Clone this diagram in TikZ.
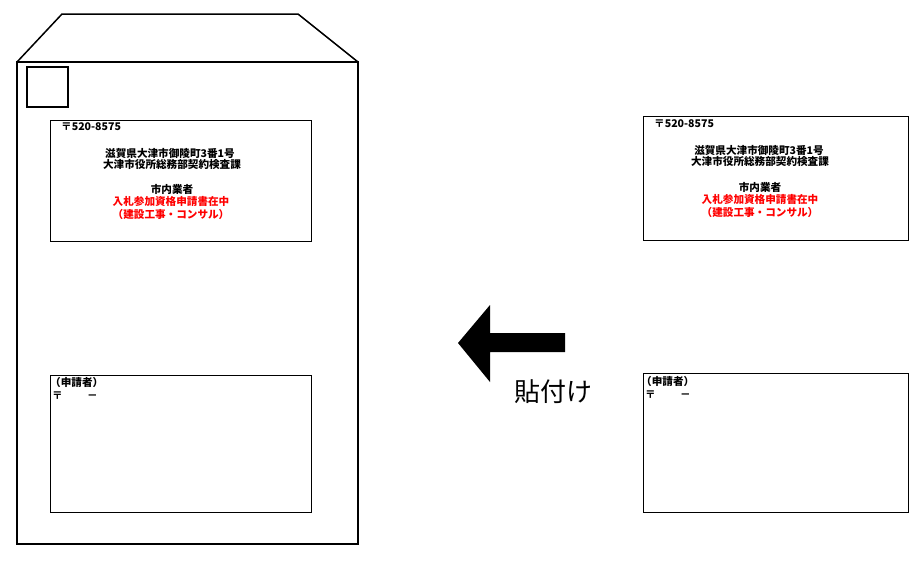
\documentclass[tikz,border=0pt]{standalone}
\usepackage{fontspec}
\newfontfamily\jp{Noto Sans CJK JP}
\begin{document}
\begin{tikzpicture}[x=1pt,y=-1pt,
  env/.style={draw=black,line width=1.5pt},
  lbl/.style={draw=black,line width=1.2pt},
  tx/.style={font=\jp\bfseries\fontsize{10.6}{12}\selectfont,inner sep=0pt,align=center},
  txr/.style={tx,text=red}]
\useasboundingbox (0,0) rectangle (921,563);
% envelope
\draw[env] (17,62) -- (62,14) -- (298,14) -- (358,62);
\draw[env] (17,62) rectangle (358,544);
\draw[env] (27,67) rectangle (68,107);
% left labels
\node[lbl,minimum width=261,minimum height=121,anchor=north west,inner sep=0pt] (L1) at (50,120) {};
\node[tx,anchor=west] (p1) at (61,127) {〒520-8575};
\node[tx] (a1) at (170,153) {滋賀県大津市御陵町3番1号};
\node[tx] (b1) at (172,164) {大津市役所総務部契約検査課};
\node[tx] (c1) at (172,189) {市内業者};
\node[txr] (d1) at (171,201) {入札参加資格申請書在中};
\node[txr] (e1) at (171,214) {（建設工事・コンサル）};
\node[lbl,minimum width=261,minimum height=137,anchor=north west,inner sep=0pt] (L2) at (50,375) {};
\node[tx,anchor=west] (f1) at (50,382) {（申請者）};
\node[tx,anchor=west] (g1) at (52,396) {〒\hspace{2.3em}－};
% right labels
\node[lbl,minimum width=265,minimum height=124,anchor=north west,inner sep=0pt] (R1) at (643,116) {};
\node[tx,anchor=west] (p2) at (654,124) {〒520-8575};
\node[tx] (a2) at (759,150) {滋賀県大津市御陵町3番1号};
\node[tx] (b2) at (760,161) {大津市役所総務部契約検査課};
\node[tx] (c2) at (760,187) {市内業者};
\node[txr] (d2) at (760,199) {入札参加資格申請書在中};
\node[txr] (e2) at (760,212) {（建設工事・コンサル）};
\node[lbl,minimum width=265,minimum height=139,anchor=north west,inner sep=0pt] (R2) at (643,373) {};
\node[tx,anchor=west] (f2) at (641,381) {（申請者）};
\node[tx,anchor=west] (g2) at (645,395) {〒\hspace{2.3em}－};
% arrow
\fill[black] (458,343) -- (490,305) -- (490,333) -- (565,333) -- (565,352) -- (490,352) -- (490,382) -- cycle;
\node[font=\jp\fontsize{26}{30}\selectfont,inner sep=0pt] (t) at (553,392) {貼付け};
\end{tikzpicture}
\end{document}
